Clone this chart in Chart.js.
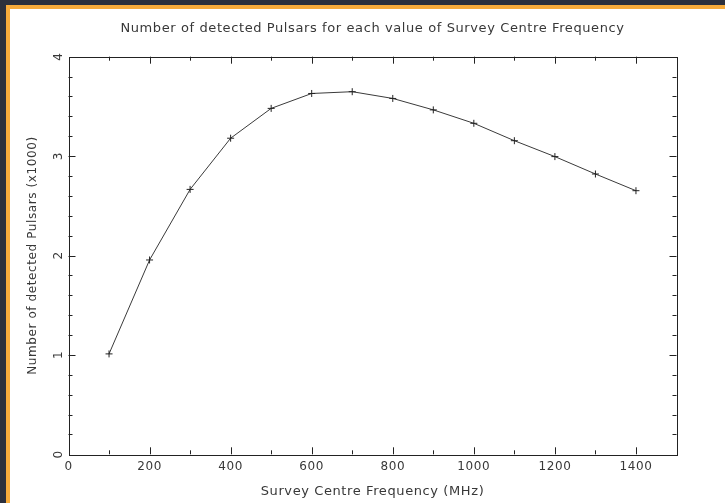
<!DOCTYPE html>
<html>
<head>
<meta charset="utf-8">
<script src="https://cdn.jsdelivr.net/npm/chart.js@4/dist/chart.umd.min.js"></script>
<style>
  html, body { margin: 0; padding: 0; width: 725px; height: 503px; overflow: hidden; background: #2c303c; }
  #frame { position: absolute; left: 6px; top: 5px; width: 730px; height: 510px; background: #fff;
           border-left: 4px solid #f7ab3b; border-top: 4px solid #f7ab3b; box-sizing: border-box; }
  #wrap { position: absolute; left: 0; top: 0; width: 725px; height: 503px; }
</style>
</head>
<body>
<div id="frame"></div>
<div id="wrap"><canvas id="c" width="725" height="503"></canvas></div>
<script>
const frequencies = [100, 200, 300, 400, 500, 600, 700, 800, 900, 1000, 1100, 1200, 1300, 1400];
const pulsarsThousands = [1.01, 1.955, 2.665, 3.18, 3.48, 3.63, 3.648, 3.58, 3.465, 3.33, 3.155, 2.995, 2.82, 2.652];
const xTickLabels = [0, 200, 400, 600, 800, 1000, 1200, 1400];
const yTickLabels = [0, 1, 2, 3, 4];

const TXT = '#383838';
const FONT = "'DejaVu Sans', sans-serif";

const spacingPlugin = {
  id: 'spacingPlugin',
  beforeDraw(chart) { chart.ctx.letterSpacing = '0.6px'; }
};

const framePlugin = {
  id: 'framePlugin',
  afterDraw(chart) {
    const ctx = chart.ctx;
    const a = chart.chartArea;
    const xs = chart.scales.x, ys = chart.scales.y;
    ctx.save();
    ctx.strokeStyle = '#222';
    ctx.lineWidth = 1;
    ctx.strokeRect(Math.round(a.left) + 0.5, Math.round(a.top) + 0.5,
                   Math.round(a.right - a.left), Math.round(a.bottom - a.top));
    ctx.beginPath();
    for (let v = 100; v < 1500; v += 100) {
      const px = Math.round(xs.getPixelForValue(v)) + 0.5;
      const len = (v % 200 === 0) ? 7 : 4;
      ctx.moveTo(px, a.bottom); ctx.lineTo(px, a.bottom - len);
      ctx.moveTo(px, a.top); ctx.lineTo(px, a.top + len);
    }
    for (let i = 1; i < 20; i++) {
      const v = i * 0.2;
      const py = Math.round(ys.getPixelForValue(v)) + 0.5;
      const len = (i % 5 === 0) ? 7 : 4;
      ctx.moveTo(a.left, py); ctx.lineTo(a.left + len, py);
      ctx.moveTo(a.right, py); ctx.lineTo(a.right - len, py);
    }
    ctx.stroke();
    ctx.fillStyle = TXT;
    ctx.font = '12px ' + FONT;
    ctx.textAlign = 'center';
    ctx.textBaseline = 'middle';
    yTickLabels.forEach(v => {
      const py = ys.getPixelForValue(v);
      ctx.save();
      ctx.translate(59, py);
      ctx.rotate(-Math.PI / 2);
      ctx.fillText(String(v), 0, 0);
      ctx.restore();
    });
    ctx.restore();
  }
};

new Chart(document.getElementById('c'), {
  type: 'line',
  data: {
    labels: frequencies,
    datasets: [{
      data: frequencies.map((f, i) => ({ x: f, y: pulsarsThousands[i] })),
      borderColor: '#3a3a3a',
      borderWidth: 1,
      pointStyle: 'cross',
      pointRadius: 3.5,
      pointBorderColor: '#222',
      pointBorderWidth: 1,
      tension: 0,
      fill: false
    }]
  },
  options: {
    responsive: false,
    animation: false,
    layout: { padding: { left: 20, right: 0, top: 0, bottom: 0 } },
    plugins: {
      legend: { display: false },
      tooltip: { enabled: false },
      title: {
        display: true,
        text: 'Number of detected Pulsars for each value of Survey Centre Frequency',
        color: TXT,
        font: { family: FONT, size: 13, weight: 'normal', lineHeight: 1.2 },
        padding: { top: 21.2, bottom: 19.9 }
      }
    },
    scales: {
      x: {
        type: 'linear',
        min: 0, max: 1500,
        grid: { display: false, drawTicks: false },
        border: { display: false },
        afterBuildTicks(s) { s.ticks = xTickLabels.map(v => ({ value: v })); },
        afterFit(s) { s.height = 48.7; },
        ticks: { color: TXT, font: { family: FONT, size: 12 }, padding: 5, maxRotation: 0, minRotation: 0,
                 callback: v => String(v) },
        title: {
          display: true, text: 'Survey Centre Frequency (MHz)', color: TXT,
          font: { family: FONT, size: 13, weight: 'normal', lineHeight: 1.2 },
          padding: { top: 0, bottom: 3.2 }
        }
      },
      y: {
        type: 'linear',
        min: 0, max: 4,
        grid: { display: false, drawTicks: false },
        border: { display: false },
        afterBuildTicks(s) { s.ticks = yTickLabels.map(v => ({ value: v })); },
        afterFit(s) { s.width = 48.5; },
        ticks: { display: false },
        title: {
          display: true, text: 'Number of detected Pulsars (x1000)', color: TXT,
          font: { family: FONT, size: 12, weight: 'normal', lineHeight: 1.2 },
          padding: { top: 5.8, bottom: 0 }
        }
      },
      yRight: {
        type: 'linear',
        position: 'right',
        min: 0, max: 4,
        grid: { display: false, drawTicks: false },
        border: { display: false },
        ticks: { display: false },
        afterFit(s) { s.width = 48.5; }
      }
    }
  },
  plugins: [spacingPlugin, framePlugin]
});
</script>
</body>
</html>
